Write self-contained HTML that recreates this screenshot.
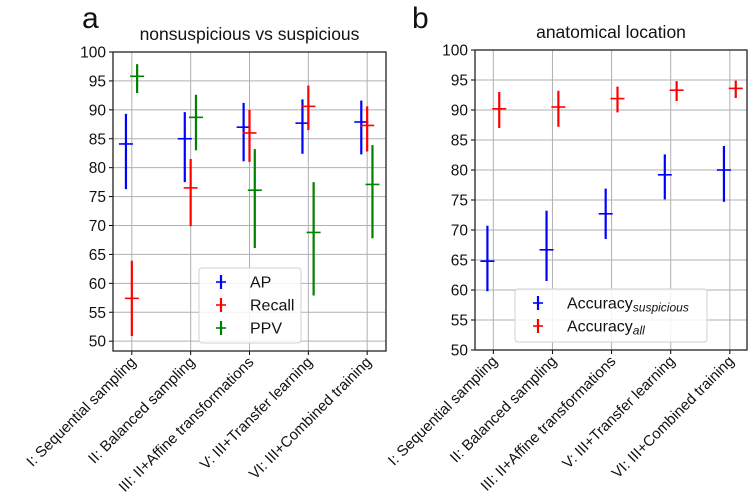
<!DOCTYPE html>
<html><head><meta charset="utf-8"><style>
html,body{margin:0;padding:0;background:#fff;}
svg{display:block;font-family:"Liberation Sans","DejaVu Sans",sans-serif;}
</style></head><body>
<svg id="chart" width="749" height="499" viewBox="0 0 749 499"></svg>
<script>
const categories=["I: Sequential sampling","II: Balanced sampling","III: II+Affine transformations","V: III+Transfer learning","VI: III+Combined training"];
const apVal=[84.1,85.0,87.0,87.7,87.9];
const apLo=[76.3,77.5,81.1,82.4,82.3];
const apHi=[89.3,89.6,91.2,91.8,91.6];
const recVal=[57.4,76.5,86.0,90.6,87.3];
const recLo=[50.9,69.9,81.0,86.5,82.8];
const recHi=[63.9,81.5,90.0,94.2,90.6];
const ppvVal=[95.8,88.7,76.1,68.8,77.1];
const ppvLo=[92.9,83.0,66.1,57.9,67.8];
const ppvHi=[97.9,92.6,83.2,77.5,83.9];
const susVal=[64.8,66.7,72.7,79.2,80.0];
const susLo=[59.8,61.5,68.5,75.1,74.7];
const susHi=[70.7,73.2,76.9,82.6,84.0];
const allVal=[90.2,90.5,91.9,93.3,93.6];
const allLo=[87.0,87.2,89.6,91.5,92.0];
const allHi=[93.0,93.2,93.9,94.8,94.9];
const yTicks=[50,55,60,65,70,75,80,85,90,95,100];

const NS="http://www.w3.org/2000/svg";
const svg=document.getElementById('chart');
function mk(tag,attrs,parent){const e=document.createElementNS(NS,tag);for(const k in attrs)e.setAttribute(k,attrs[k]);(parent||svg).appendChild(e);return e;}

function panel(cfg){
  const g=mk('g',{});
  
  
  const xs=i=>cfg.x0+(i-cfg.xmin)/(cfg.xmax-cfg.xmin)*(cfg.x1-cfg.x0);
  const ys=v=>cfg.y1-(v-cfg.ymin)/(cfg.ymax-cfg.ymin)*(cfg.y1-cfg.y0);
  yTicks.forEach(t=>{
    const l=mk('line',{x1:cfg.x0,x2:cfg.x1,y1:ys(t),y2:ys(t),stroke:'#b0b0b0','stroke-width':1},g);
    
    
    const tk=mk('line',{x1:cfg.x0-4,x2:cfg.x0,y1:ys(t),y2:ys(t),stroke:'#000','stroke-width':1},g);
    
    
    const tx=mk('text',{x:cfg.x0-7,y:ys(t)+5.5,'text-anchor':'end','font-size':15.5,fill:'#111'},g);
    tx.textContent=t;
    
    
  });
  categories.forEach((c,i)=>{
    const x=xs(i);
    const l=mk('line',{x1:x,x2:x,y1:cfg.y0,y2:cfg.y1,stroke:'#b0b0b0','stroke-width':1},g);
    
    
    const tk=mk('line',{x1:x,x2:x,y1:cfg.y1,y2:cfg.y1+4,stroke:'#000','stroke-width':1},g);
    
    
    const tx=mk('text',{x:x+5,y:cfg.y1+12,'text-anchor':'end','font-size':15,fill:'#111',transform:`rotate(-45 ${x+5} ${cfg.y1+12})`},g);
    tx.textContent=c;
    
    
  });
  cfg.series.forEach(s=>{
    s.val.forEach((v,i)=>{
      const x=xs(i+s.off);
      const sg=mk('g',{},g);
      
      
      mk('line',{x1:x,x2:x,y1:ys(s.lo[i]),y2:ys(s.hi[i]),stroke:s.color,'stroke-width':2.2},sg);
      mk('line',{x1:x-7,x2:x+7,y1:ys(v),y2:ys(v),stroke:s.color,'stroke-width':1.6},sg);
    });
  });
  const fr=mk('rect',{x:cfg.x0,y:cfg.y0,width:cfg.x1-cfg.x0,height:cfg.y1-cfg.y0,fill:'none',stroke:'#222','stroke-width':1.3},g);
  
  
  const ti=mk('text',{x:(cfg.x0+cfg.x1)/2,y:cfg.y0-12,'text-anchor':'middle','font-size':17.5,fill:'#111'},g);
  ti.textContent=cfg.title;
  
  
  const lt=mk('text',{x:cfg.letterX,y:28,'font-size':30,fill:'#111'},g);
  lt.textContent=cfg.letter;
  
  
  const L=cfg.legend;
  const lg=mk('g',{},g);
  
  
  mk('rect',{x:L.x,y:L.y,width:L.w,height:L.h,rx:3,fill:'#fff','fill-opacity':0.85,stroke:'#d0d0d0'},lg);
  cfg.series.forEach((s,k)=>{
    const cy=L.y+14+k*L.step;
    const e=mk('g',{},lg);
    
    
    mk('line',{x1:L.mx,x2:L.mx,y1:cy-7,y2:cy+7,stroke:s.color,'stroke-width':2.2},e);
    mk('line',{x1:L.mx-5,x2:L.mx+5,y1:cy,y2:cy,stroke:s.color,'stroke-width':1.6},e);
    const t=mk('text',{x:L.tx,y:cy+5.5,'font-size':16,fill:'#111'},e);
    t.textContent=s.label;
    if(s.sub){const ts=mk('tspan',{'font-size':12,'font-style':'italic',dy:3},t);ts.textContent=s.sub;}
  });
}

panel({name:'panel-a',letter:'a',letterX:82,title:'nonsuspicious vs suspicious',x0:113,x1:386,y0:52,y1:351,xmin:-0.32,xmax:4.32,ymin:48.3,ymax:100,
  series:[{key:'ap',label:'AP',color:'#0000ff',val:apVal,lo:apLo,hi:apHi,off:-0.1},
          {key:'recall',label:'Recall',color:'#ff0000',val:recVal,lo:recLo,hi:recHi,off:0},
          {key:'ppv',label:'PPV',color:'#008000',val:ppvVal,lo:ppvLo,hi:ppvHi,off:0.09}],
  legend:{x:199,y:268,w:102,h:75,step:23,mx:221,tx:250}});
panel({name:'panel-b',letter:'b',letterX:412,title:'anatomical location',x0:475,x1:747,y0:50,y1:350,xmin:-0.31,xmax:4.29,ymin:50,ymax:100,
  series:[{key:'acc-suspicious',label:'Accuracy',sub:'suspicious',color:'#0000ff',val:susVal,lo:susLo,hi:susHi,off:-0.1},
          {key:'acc-all',label:'Accuracy',sub:'all',color:'#ff0000',val:allVal,lo:allLo,hi:allHi,off:0.1}],
  legend:{x:515,y:289,w:192,h:53,step:23,mx:538,tx:567}});
</script>
</body></html>
